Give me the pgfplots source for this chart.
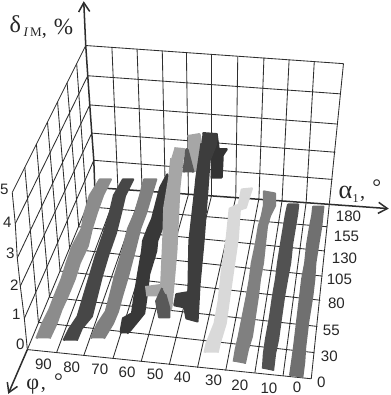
\documentclass[border=0pt]{standalone}
\usepackage{fontspec}
\setmainfont{Liberation Sans}
\newfontfamily\sym{Liberation Serif}
\usepackage{pgfplots}
\pgfplotsset{compat=1.18}
\usetikzlibrary{arrows.meta}
\definecolor{gridc}{HTML}{2E2E2E}
\tikzset{gl/.style={draw=gridc,line width=0.85pt},
  rb/.style={draw=#1,fill=#1,line width=2.2pt,line join=round},
  tl/.style={font=\fontsize{15}{17}\selectfont,text=black!85,inner sep=0pt},
  tt/.style={inner sep=0pt,text=black!85}}
\newcommand{\symsz}[1]{\sym\fontsize{#1}{#1}\selectfont}
\begin{document}
\begin{tikzpicture}
\begin{axis}[scale only axis,width=389pt,height=395pt,xmin=0,xmax=389,ymin=0,ymax=395,y dir=reverse,
  hide axis,clip=false,
  every axis plot/.append style={no markers}]
% --- back wall: horizontal lines (delta levels)
\addplot[gl] coordinates {(86,46)(342,64)};
\addplot[gl] coordinates {(88,76)(339,94)};
\addplot[gl] coordinates {(90,105)(336,124)};
\addplot[gl] coordinates {(92,133)(334,152)};
\addplot[gl] coordinates {(94,160)(331,179)};
% --- back wall: vertical lines
\addplot[gl] coordinates {(112,48)(118,189)};
\addplot[gl] coordinates {(137,50)(142,190)};
\addplot[gl] coordinates {(162,51)(165,192)};
\addplot[gl] coordinates {(186,53)(188,194)};
\addplot[gl] coordinates {(211,55)(211,195)};
\addplot[gl] coordinates {(237,57)(235,197)};
\addplot[gl] coordinates {(263,58)(258,198)};
\addplot[gl] coordinates {(288,60)(281,200)};
\addplot[gl] coordinates {(313,62)(305,201)};
\addplot[gl] coordinates {(342,64)(328,203)};
% --- left wall
\addplot[gl] coordinates {(13,192)(86,46)};
\addplot[gl] coordinates {(13,192)(16,223)(18,257)(21,285)(25,317)(28,348)};
\addplot[gl] coordinates {(16,223)(88,76)};
\addplot[gl] coordinates {(18,257)(90,105)};
\addplot[gl] coordinates {(21,285)(92,133)};
\addplot[gl] coordinates {(25,317)(94,160)};
\addplot[gl] coordinates {(25.5,167)(39,321)};
\addplot[gl] coordinates {(37,144)(50,296)};
\addplot[gl] coordinates {(48,122)(60.5,270)};
\addplot[gl] coordinates {(58,102)(70,248)};
\addplot[gl] coordinates {(67.5,83)(79,226)};
\addplot[gl] coordinates {(77,64)(87,206)};
% --- floor: edges and lines of constant alpha
\addplot[gl] coordinates {(28,348)(95,187)};
\addplot[gl] coordinates {(310,377)(328,203)};
\addplot[gl] coordinates {(28,348)(310,377)};
\addplot[gl] coordinates {(39,321)(313,351)};
\addplot[gl] coordinates {(50,296)(316,325)};
\addplot[gl] coordinates {(60.5,270)(319,299)};
\addplot[gl] coordinates {(70,248)(321,275)};
\addplot[gl] coordinates {(79,226)(323,250)};
\addplot[gl] coordinates {(87,206)(326,226)};
% --- floor: lines of constant phi
\addplot[gl] coordinates {(57,351)(118,189)};
\addplot[gl] coordinates {(84,354)(142,190)};
\addplot[gl] coordinates {(113,357)(165,192)};
\addplot[gl] coordinates {(141,360)(188,194)};
\addplot[gl] coordinates {(169,363)(211,195)};
\addplot[gl] coordinates {(197,366)(235,197)};
\addplot[gl] coordinates {(225,369)(258,198)};
\addplot[gl] coordinates {(254,371)(281,200)};
\addplot[gl] coordinates {(282,374)(305,201)};
% --- axes
\addplot[draw=gridc,line width=1.5pt] coordinates {(86,46)(88,76)(90,105)(92,133)(94,160)(95,187)};
\addplot[draw=gridc,line width=1.5pt,-{Straight Barb[length=9pt,width=11pt]}] coordinates {(86,46)(84,2)};
\addplot[draw=gridc,line width=1.5pt,-{Straight Barb[length=9pt,width=11pt]}] coordinates {(95,187)(387,208)};
\addplot[draw=gridc,line width=1.5pt,-{Straight Barb[length=9pt,width=11pt]}] coordinates {(28,348)(9,392)};
% --- ribbons (left edge upward, then right edge downward)
% 90
\addplot[rb=black!45] coordinates {(37,337)(43,322)(50,308)(55,295)(62,278)(67,262)(73,245)(82,228)(85,212)(90,195)(100,179)(111,179)(103,195)(97,212)(92,228)(88,245)(80,262)(75,278)(68,295)(62,308)(57,322)(50,337)};
% 80
\addplot[rb=black!72] coordinates {(64,339)(70,327)(78,315)(84,295)(90,275)(96,255)(104,232)(110,212)(114,195)(123,179)(133,179)(125,195)(121,212)(116,232)(108,255)(102,275)(97,295)(92,315)(82,327)(77,339)};
% 70
\addplot[rb=black!50] coordinates {(91,337)(98,322)(106,310)(110,295)(115,275)(122,252)(128,228)(135,212)(140,195)(144,179)(156,179)(151,195)(146,212)(140,228)(134,252)(128,275)(122,295)(118,310)(113,322)(104,337)};
% 60
\addplot[rb=black!78] coordinates {(121,332)(121,328)(123,317)(132,312)(134,298)(138,273)(142,250)(143,240)(148,227)(152,218)(160,187)(167,174)(171,190)(164,218)(162,227)(157,240)(156,250)(149,273)(146,298)(144,312)(140,317)(131,328)(127,332)};
% 50 rear piece
\addplot[rb=black!35] coordinates {(187,136)(199,134)(201,145)(197,170)(192,171)(188,150)};
% 50
\addplot[rb=black!35] coordinates {(174,148)(184,149)(182,160)(179,187)(176,250)(174,273)(171,306)(170,309)(163,290)(161,283)(163,240)(164,207)(169,177)(171,158)};
\addplot[rb=black!35] coordinates {(145,286)(160,284)(161,294)(146,294)};
% spikes
\addplot[rb=black!65] coordinates {(183,172)(186,149)(187,149)(193,172)};
\addplot[rb=black!65] coordinates {(162,287)(156,300)(159,316)(169,316)(169,307)(165,293)};
% 40 rear block
\addplot[rb=black!80] coordinates {(211,134)(216,134)(218,149)(226,149)(222,155)(221,177)(210,177)};
% 40
\addplot[rb=black!76] coordinates {(202,133)(216,134)(215,145)(209,160)(207,187)(203,240)(199,283)(197,320)(186,317)(184,306)(174,304)(176,293)(188,291)(189,240)(195,187)(196,177)(201,143)};
% 30
\addplot[rb=black!15] coordinates {(204,351)(206,342)(214,322)(218,300)(221,272)(226,238)(229,208)(238,204)(241,189)(251,188)(248,197)(245,207)(239,209)(237,238)(232,272)(228,300)(225,322)(219,342)(217,351)};
% 20
\addplot[rb=black!50] coordinates {(233,360)(235,348)(238,335)(242,315)(246,295)(249,278)(251,262)(255,243)(258,225)(261,215)(263,205)(263,191)(274,193)(274,205)(269,215)(266,225)(264,243)(262,262)(259,278)(257,295)(254,315)(251,335)(247,348)(244,362)};
% 10
\addplot[rb=black!68] coordinates {(262,367)(263,352)(265,338)(269,316)(272,295)(275,278)(277,262)(280,243)(283,225)(285,213)(287,204)(297,204)(296,213)(294,225)(291,243)(289,262)(286,278)(283,295)(280,316)(277,338)(274,352)(272,369)};
% 0
\addplot[rb=black!56] coordinates {(289,374)(291,360)(293,345)(296,320)(299,295)(301,278)(304,262)(306,243)(309,225)(311,215)(312,206)(322,206)(321,215)(320,225)(317,243)(314,262)(313,278)(311,295)(307,320)(304,345)(303,360)(301,376)};
% --- tick labels
\node[tl] at (axis cs:44,363) {90};
\node[tl] at (axis cs:72,366) {80};
\node[tl] at (axis cs:100,368) {70};
\node[tl] at (axis cs:127,371) {60};
\node[tl] at (axis cs:155,373) {50};
\node[tl] at (axis cs:182,376) {40};
\node[tl] at (axis cs:213,379) {30};
\node[tl] at (axis cs:239,383) {20};
\node[tl] at (axis cs:268,386) {10};
\node[tl] at (axis cs:296,385) {0};
\node[tl] at (axis cs:347,216) {180};
\node[tl] at (axis cs:345,236) {155};
\node[tl] at (axis cs:343,257) {130};
\node[tl] at (axis cs:338,278) {105};
\node[tl] at (axis cs:335,302) {80};
\node[tl] at (axis cs:330,329) {55};
\node[tl] at (axis cs:328,355) {30};
\node[tl] at (axis cs:320,381) {0};
\node[tl] at (axis cs:5,189) {5};
\node[tl] at (axis cs:8,222) {4};
\node[tl] at (axis cs:11,252) {3};
\node[tl] at (axis cs:15,284) {2};
\node[tl] at (axis cs:17,313) {1};
\node[tl] at (axis cs:21,343) {0};
% --- axis titles
\node[tt,anchor=base] at (axis cs:16,33) {\symsz{24}δ};
\node[tt,anchor=base west] at (axis cs:24,37) {\symsz{13}\itshape I\upshape\,M};
\node[tt,anchor=base] at (axis cs:45,36) {\symsz{20},};
\node[tt,anchor=base] at (axis cs:64,35) {\symsz{23}\%};
\node[tt,anchor=base] at (axis cs:344,198) {\symsz{26}α};
\node[tt,anchor=base] at (axis cs:354,202) {\symsz{12}1};
\node[tt,anchor=base] at (axis cs:361,198) {\symsz{20},};
\node[tt,anchor=north] at (axis cs:375,179) {\symsz{22}°};
\node[tt,anchor=base] at (axis cs:33.5,388) {\symsz{22}φ};
\node[tt,anchor=base] at (axis cs:44,388) {\symsz{20},};
\node[tt,anchor=north] at (axis cs:59,372) {\symsz{22}°};
\end{axis}
\end{tikzpicture}
\end{document}
